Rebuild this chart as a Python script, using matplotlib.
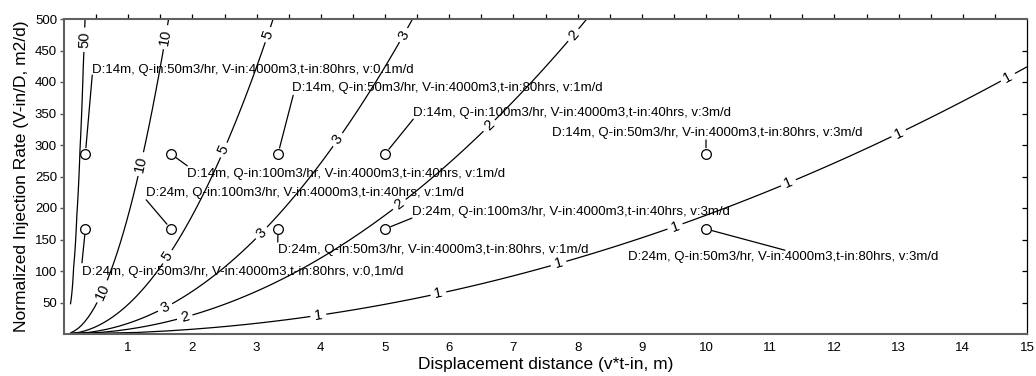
import numpy as np
import matplotlib
matplotlib.use('Agg')
import matplotlib.pyplot as plt

plt.rcParams['font.family'] = ['Liberation Sans', 'DejaVu Sans']

# contour levels and the curve coefficient (y = k * (level * x)^2)
levels = [1, 2, 3, 5, 10, 50]
k_coef = 1.885

# injection cases: position (v*t-in, V-in/D) and description
case_x = [0.333, 3.333, 5.0, 10.0, 1.667, 1.667, 5.0, 3.333, 0.333, 10.0]
case_y = [285.7, 285.7, 285.7, 285.7, 285.7, 166.7, 166.7, 166.7, 166.7, 166.7]
case_text = [
    "D:14m, Q-in:50m3/hr, V-in:4000m3,t-in:80hrs, v:0.1m/d",
    "D:14m, Q-in:50m3/hr, V-in:4000m3,t-in:80hrs, v:1m/d",
    "D:14m, Q-in:100m3/hr, V-in:4000m3,t-in:40hrs, v:3m/d",
    "D:14m, Q-in:50m3/hr, V-in:4000m3,t-in:80hrs, v:3m/d",
    "D:14m, Q-in:100m3/hr, V-in:4000m3,t-in:40hrs, v:1m/d",
    "D:24m, Q-in:100m3/hr, V-in:4000m3,t-in:40hrs, v:1m/d",
    "D:24m, Q-in:100m3/hr, V-in:4000m3,t-in:40hrs, v:3m/d",
    "D:24m, Q-in:50m3/hr, V-in:4000m3,t-in:80hrs, v:1m/d",
    "D:24m, Q-in:50m3/hr, V-in:4000m3,t-in:80hrs, v:0,1m/d",
    "D:24m, Q-in:50m3/hr, V-in:4000m3,t-in:80hrs, v:3m/d",
]

# where each description sits and where its leader line ends
text_pos = [(0.44, 419), (3.55, 390), (5.44, 351), (7.60, 319), (1.92, 254),
            (1.28, 224), (5.42, 194), (3.33, 133), (0.28, 99), (8.78, 122)]
lead_end = [(0.44, 411), (3.57, 379), (5.44, 341), (10.0, 308), (1.92, 267),
            (1.28, 213), (5.42, 184), (3.33, 146), (0.28, 113), (11.23, 133)]

# contour label spots
label_spots = [(0.33, 467), (1.59, 471), (1.18, 270), (0.61, 67),
               (3.18, 475), (2.49, 292), (1.62, 122),
               (5.28, 475), (4.27, 308), (3.08, 160), (1.57, 43),
               (7.93, 475), (6.64, 329), (5.23, 205), (1.88, 27),
               (14.7, 408), (13.0, 319), (11.28, 241), (9.52, 170),
               (7.7, 113), (5.83, 65), (3.96, 30)]

gx = np.arange(0.1, 15.001, 0.05)
gy = np.arange(0, 500.1, 2.5)
X, Y = np.meshgrid(gx, gy)
Z = np.sqrt(Y / k_coef) / X

fig = plt.figure(figsize=(10.36, 3.76), dpi=100)
ax = fig.add_axes([64 / 1036, 42 / 376, 963 / 1036, 315 / 376])

cs = ax.contour(X, Y, Z, levels=levels, colors='black', linewidths=0.9)
ax.clabel(cs, fmt='%d', fontsize=10.5, inline=True, inline_spacing=4,
          manual=label_spots)

ax.plot(case_x, case_y, 'o', ms=7, mfc='none', mec='black', mew=0.9)

for i in range(len(case_text)):
    ax.annotate('', xy=(case_x[i], case_y[i]), xytext=lead_end[i],
                arrowprops=dict(arrowstyle='-', color='black', lw=0.9,
                                shrinkA=0, shrinkB=4.5))
    ax.text(text_pos[i][0], text_pos[i][1], case_text[i], fontsize=9.5,
            va='center', ha='left')

ax.set_xlim(0, 15)
ax.set_ylim(0, 500)
ax.set_xticks(np.arange(1, 16))
ax.set_yticks(np.arange(50, 501, 50))
ax.tick_params(axis='x', bottom=False, length=0, labelsize=9.5, pad=6)
ax.tick_params(axis='y', direction='out', length=3, width=1, color='#555555',
               labelsize=9.5, pad=2)

for side in ['left', 'top', 'bottom']:
    ax.spines[side].set_color('#606060')
    ax.spines[side].set_linewidth(1.5)
ax.spines['right'].set_color('black')
ax.spines['right'].set_linewidth(0.9)

top = ax.secondary_xaxis('top')
top.set_xticks(np.arange(0.5, 15, 0.5))
top.tick_params(direction='out', length=3.5, width=0.9, labeltop=False)
top.spines['top'].set_visible(False)

right = ax.secondary_yaxis('right')
right.set_yticks(np.arange(50, 500, 50))
right.tick_params(direction='in', length=3.5, width=0.9, labelright=False)
right.spines['right'].set_visible(False)

ax.set_xlabel('Displacement distance (v*t-in, m)', fontsize=12.5, labelpad=2)
ax.set_ylabel('Normalized Injection Rate (V-in/D, m2/d)', fontsize=12.5, labelpad=4)

fig.savefig('out.png', dpi=100)
